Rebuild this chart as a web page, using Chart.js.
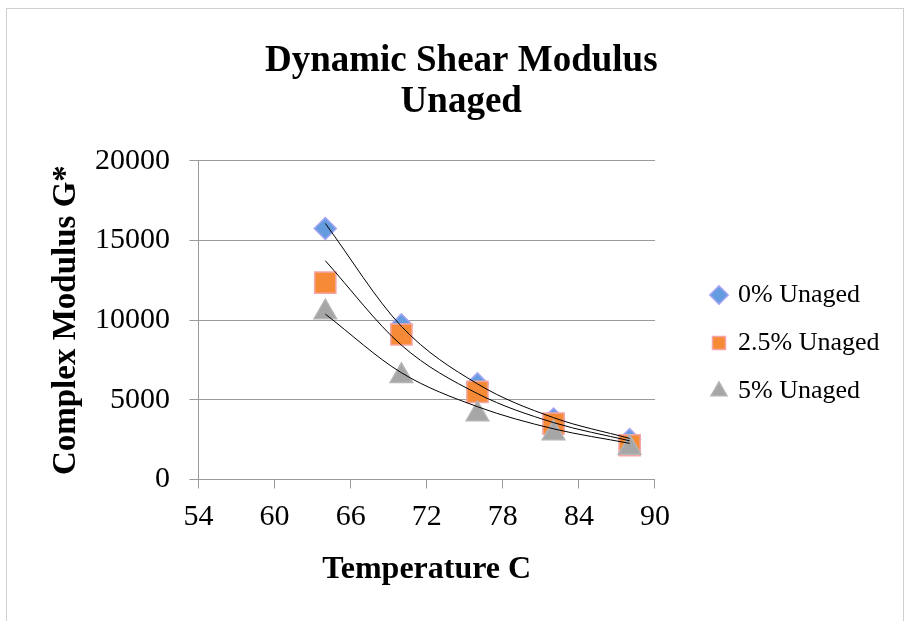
<!DOCTYPE html>
<html>
<head>
<meta charset="utf-8">
<script src="https://cdn.jsdelivr.net/npm/chart.js@4/dist/chart.umd.min.js"></script>
<style>
  html, body { margin: 0; padding: 0; background: #ffffff; }
  #wrap { position: relative; width: 908px; height: 621px; overflow: hidden; }
  #frame { position: absolute; left: 6px; top: 8px; width: 898px; height: 700px; border: 1px solid #cfcfcf; box-sizing: border-box; pointer-events: none; }
  #c { position: absolute; left: 0; top: 0; }
</style>
</head>
<body>
<div id="wrap">
  <div id="frame"></div>
  <canvas id="c" width="908" height="621"></canvas>
</div>
<script>
// ---- data ----
const temperatures = [64, 70, 76, 82, 88];
const unaged0 = [15750, 9700, 6000, 3800, 2500];
const unaged25 = [12350, 9100, 5500, 3500, 2150];
const unaged5 = [10500, 6500, 4100, 2900, 2000];
// trendline heights at the same temperatures
const trend0 = [16070, 9610, 6000, 3880, 2580];
const trend25 = [13730, 8430, 5390, 3570, 2430];
const trend5 = [10380, 6700, 4570, 3180, 2270];
const seriesNames = ['0% Unaged', '2.5% Unaged', '5% Unaged'];
const titleLines = ['Dynamic Shear Modulus', 'Unaged'];
const xTitle = 'Temperature C';
const yTitle = 'Complex Modulus G*';

const pts = (ys) => temperatures.map((t, i) => ({ x: t, y: ys[i] }));
const SERIF = '"Liberation Serif", "Times New Roman", serif';
const GRID = '#9a9a9a';

const trendDs = (ys) => ({
  label: '_trend', data: pts(ys), showLine: true, borderColor: '#000000', borderWidth: 1,
  pointRadius: 0, pointHoverRadius: 0, fill: false, cubicInterpolationMode: 'monotone', order: 0
});

new Chart(document.getElementById('c'), {
  type: 'scatter',
  data: {
    datasets: [
      { label: seriesNames[0], data: pts(unaged0), pointStyle: 'rectRot', pointRadius: 11,
        backgroundColor: '#659ce0', borderColor: '#a4a4f4', borderWidth: 1.5, order: 3 },
      { label: seriesNames[1], data: pts(unaged25), pointStyle: 'rect', pointRadius: 15,
        backgroundColor: '#f78a36', borderColor: '#f4a6a6', borderWidth: 1.5, order: 2 },
      { label: seriesNames[2], data: pts(unaged5), pointStyle: 'triangle', pointRadius: 13,
        backgroundColor: '#a6a6a6', borderColor: '#b4b4b4', borderWidth: 1.5, order: 1 },
      trendDs(trend0), trendDs(trend25), trendDs(trend5)
    ]
  },
  options: {
    responsive: false,
    animation: false,
    devicePixelRatio: 1,
    layout: { padding: { left: 33, right: 18.5, top: 0, bottom: 0 } },
    plugins: {
      tooltip: { enabled: false },
      title: {
        display: true, text: titleLines, color: '#000000',
        font: { family: SERIF, size: 37, weight: 'bold', lineHeight: 1.12 },
        padding: { top: 40.5, bottom: 37.4 }
      },
      legend: {
        display: true, position: 'right', align: 'start', fullSize: false, maxWidth: 400,
        title: { display: true, text: ' ', font: { size: 10, lineHeight: 1.2 }, padding: { top: 87.3, bottom: 0 } },
        labels: {
          usePointStyle: true, boxWidth: 12, boxHeight: 13, padding: 22, color: '#000000',
          font: { family: SERIF, size: 26 },
          filter: (item) => item.text !== '_trend',
          sort: (a, b) => a.datasetIndex - b.datasetIndex
        }
      }
    },
    scales: {
      x: {
        type: 'linear', position: 'bottom', min: 54, max: 90,
        ticks: { stepSize: 6, color: '#000000', padding: 10.5, font: { family: SERIF, size: 30 }, callback: (v) => String(v) },
        grid: { display: true, drawOnChartArea: false, drawTicks: true, tickLength: 9, color: GRID },
        border: { display: true, color: GRID },
        title: { display: true, text: xTitle, color: '#000000', font: { family: SERIF, size: 32, weight: 'bold', lineHeight: 1.2 }, padding: { top: 0, bottom: 31.8 } },
        afterFit: (s) => { s.height = 141.5; }
      },
      y: {
        type: 'linear', position: 'left', min: 0, max: 20000,
        ticks: { stepSize: 5000, color: '#000000', padding: 19.5, font: { family: SERIF, size: 30 }, callback: (v) => String(v) },
        grid: { display: true, drawOnChartArea: true, drawTicks: true, tickLength: 9, color: GRID },
        border: { display: true, color: GRID },
        title: { display: true, text: yTitle, color: '#000000', font: { family: SERIF, size: 33, weight: 'bold', lineHeight: 1.2 }, padding: { top: 13.7, bottom: 0 } },
        afterFit: (s) => { s.width = 165.5; }
      },
      spacer: {
        type: 'linear', position: 'right', display: true,
        ticks: { display: false }, grid: { display: false }, border: { display: false },
        afterFit: (s) => { s.width = 36; }
      }
    }
  }
});
</script>
</body>
</html>
